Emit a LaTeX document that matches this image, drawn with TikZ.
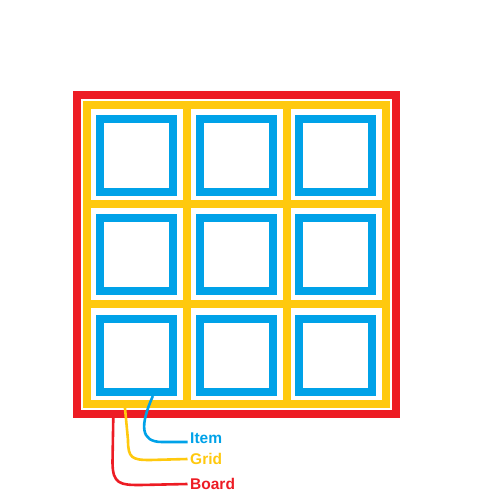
\documentclass[tikz,border=0pt]{standalone}
\usepackage{fontspec}
\setmainfont{Liberation Sans}
\definecolor{cred}{RGB}{237,28,36}
\definecolor{cyellow}{RGB}{255,201,14}
\definecolor{cblue}{RGB}{0,162,232}
\tikzset{
  boardbox/.style={draw=cred, line width=8pt, minimum size=319pt, inner sep=0pt},
  gridbox/.style={draw=cyellow, line width=8pt, minimum size=299pt, inner sep=0pt},
  gridline/.style={draw=cyellow, line width=8pt},
  itembox/.style={draw=cblue, line width=8pt, minimum size=73pt, inner sep=0pt},
  lbl/.style={anchor=west, inner xsep=2.5pt, inner ysep=0pt, font=\bfseries\fontsize{15.5}{18}\selectfont},
  conn/.style={line width=2.6pt}
}
\begin{document}
\begin{tikzpicture}[x=1pt,y=-1pt]
\useasboundingbox (0,0) rectangle (500,500);
% board
\node[boardbox] (board) at (236.5,254.5) {};
% grid
\node[gridbox] (grid) at (236.5,254.5) {};
\draw[gridline] (187,105) -- (187,404);
\draw[gridline] (286.5,105) -- (286.5,404);
\draw[gridline] (87,204) -- (386,204);
\draw[gridline] (87,304) -- (386,304);
% items
\node[itembox] (i11) at (136.5,155.5) {};
\node[itembox] (i12) at (236.5,155.5) {};
\node[itembox] (i13) at (335.5,155.5) {};
\node[itembox] (i21) at (136.5,254.5) {};
\node[itembox] (i22) at (236.5,254.5) {};
\node[itembox] (i23) at (335.5,254.5) {};
\node[itembox] (i31) at (136.5,355.5) {};
\node[itembox] (i32) at (236.5,355.5) {};
\node[itembox] (i33) at (335.5,355.5) {};
% labels
\node[lbl, text=cblue] (item) at (187.5,438.3) {Item};
\node[lbl, text=cyellow] (gridlbl) at (187.5,459) {Grid};
\node[lbl, text=cred] (boardlbl) at (187.5,484) {Board};
% connectors
\draw[conn, cred] (board.-127.3) -- (112.5,462) .. controls (112.5,484) and (120,485) .. (140,485) -- (boardlbl.west);
\draw[conn, cyellow] (grid.-126) -- (128,440) .. controls (128,458) and (132,460) .. (150,460) -- (gridlbl.west);
\draw[conn, cblue] (i31.-68) .. controls (140,425) and (140,442) .. (162,442) -- ([yshift=-3.7pt]item.west);
\end{tikzpicture}
\end{document}
